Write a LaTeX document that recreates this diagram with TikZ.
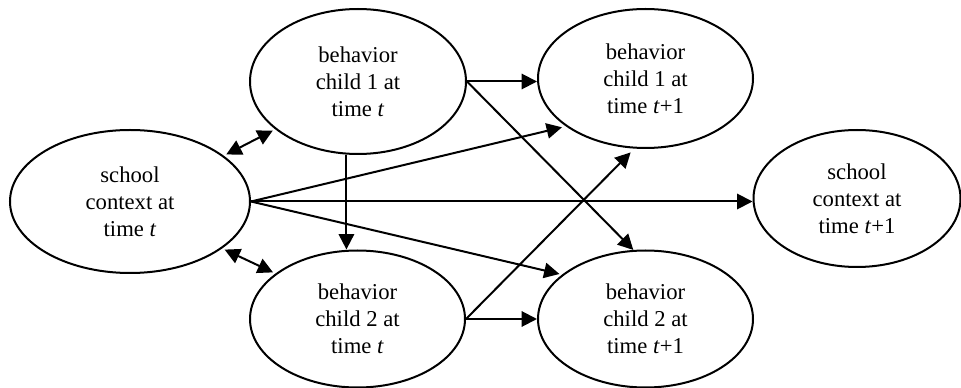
\documentclass[tikz,border=0pt]{standalone}
\usepackage{fontspec}
\setmainfont{Liberation Serif}
\usetikzlibrary{shapes.geometric,arrows.meta}
\begin{document}
\begin{tikzpicture}[x=0.75pt,y=-0.75pt,
  ell/.style={draw,ellipse,line width=1.5pt,inner sep=0pt,align=center,
    font=\fontsize{17}{20.25}\selectfont},
  tip/.tip={Triangle[length=11.5pt,width=11.5pt]},
  arr/.style={line width=1.5pt,-tip},
  darr/.style={line width=1.5pt,tip-tip}]
\useasboundingbox (0,0) rectangle (961,388);
\node[ell,minimum width=180pt,minimum height=107.25pt] (St) at (130,201.5) {school\\context at\\time \textit{t}};
\node[ell,minimum width=162pt,minimum height=108.75pt] (B1t) at (358,81.5) {behavior\\child 1 at\\time \textit{t}};
\node[ell,minimum width=161.25pt,minimum height=104.25pt] (B1s) at (645.5,78.5) {behavior\\child 1 at\\time \textit{t}+1};
\node[ell,minimum width=161.25pt,minimum height=102.75pt] (B2t) at (357.5,319) {behavior\\child 2 at\\time \textit{t}};
\node[ell,minimum width=161.25pt,minimum height=102.75pt] (B2s) at (645.5,319) {behavior\\child 2 at\\time \textit{t}+1};
\node[ell,minimum width=155.25pt,minimum height=102.75pt] (Ss) at (857,198.5) {school\\context at\\time \textit{t}+1};

\draw[darr,shorten <=2pt,shorten >=2pt] (St.26.3) -- (B1t.210.2);
\draw[darr,shorten <=2pt,shorten >=2pt] (St.-27) -- (B2t.151.7);
\draw[arr] (B1t.261) -- (B1t.261 |- B2t.north);
\draw[arr,shorten >=3pt] (St.east) -- (B1s.211.7);
\draw[arr] (St.east) -- (St.east -| Ss.west);
\draw[arr,shorten >=2pt] (St.east) -- (B2s.152.5);
\draw[arr] (B1t.east) -- (B1t.east -| B1s.west);
\draw[arr] (B1t.east) -- (B2s.100.3);
\draw[arr,shorten >=4pt] (B2t.east) -- (B1s.261.3);
\draw[arr] (B2t.east) -- (B2t.east -| B2s.west);
\end{tikzpicture}
\end{document}
